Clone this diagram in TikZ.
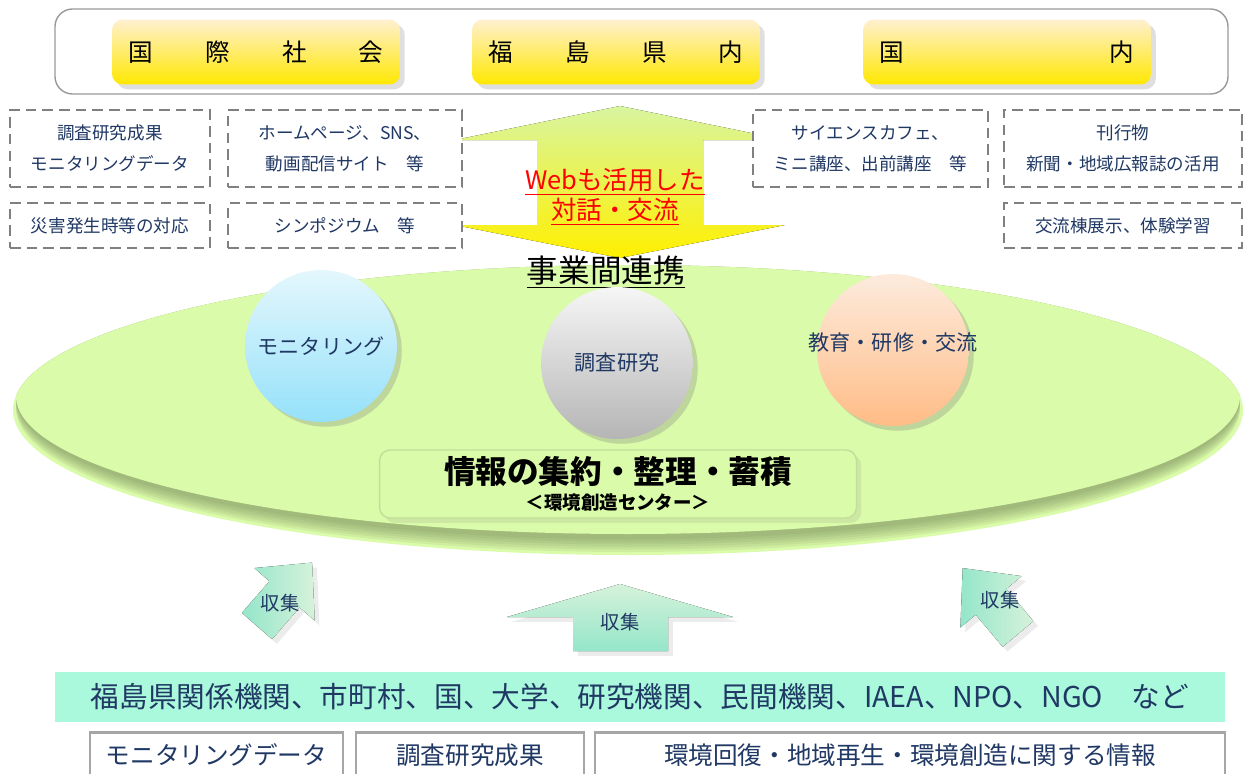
\documentclass[tikz,border=0pt]{standalone}
\usepackage{fontspec}
\setmainfont{Noto Sans CJK JP}
\usetikzlibrary{shadows,positioning}

\definecolor{ytop}{HTML}{FFF0D0}
\definecolor{ybot}{HTML}{FFE800}
\definecolor{dashgray}{HTML}{808080}
\definecolor{navy}{HTML}{203864}
\definecolor{hubgreen}{HTML}{DAFBA9}
\definecolor{hubshade}{HTML}{6F7D52}
\definecolor{atop}{HTML}{D8F5A0}
\definecolor{abot}{HTML}{FFF000}
\definecolor{mintA}{HTML}{94E6CA}
\definecolor{mintB}{HTML}{D6F2DA}
\definecolor{bannermint}{HTML}{AAF9DC}
\definecolor{bluetop}{HTML}{E4F7FD}
\definecolor{bluebot}{HTML}{95E1FA}
\definecolor{graytop}{HTML}{F6F6F6}
\definecolor{graybot}{HTML}{B5B5B5}
\definecolor{orangetop}{HTML}{FDEBDD}
\definecolor{orangebot}{HTML}{FFBC86}
\definecolor{infoborder}{HTML}{C3DE9A}

\begin{document}
\begin{tikzpicture}[
        x=0.02cm, y=-0.02cm,
        frame/.style={
            draw=gray!80,
            rounded corners=10pt,
            thick,
        },
        yellowbox/.style={
            rectangle,
            rounded corners=6pt,
            minimum width=5.76cm,
            minimum height=1.3cm,
            top color=ytop,
            bottom color=ybot,
            drop shadow={opacity=0.25},
            font=\fontsize{14}{16}\selectfont,
        },
        dashbox/.style={
            rectangle,
            draw=dashgray,
            dash pattern=on 6pt off 3.5pt,
            line width=1.3pt,
            fill=white,
            minimum width=4cm,
            minimum height=1.54cm,
            align=center,
            text=navy,
            font=\fontsize{10}{17.5}\selectfont,
        },
        wide/.style={
            minimum width=4.68cm,
        },
        low/.style={
            minimum height=0.9cm,
        },
        ball/.style={
            circle,
            minimum size=3.04cm,
            inner sep=0pt,
            drop shadow={opacity=0.3},
        },
        balltext/.style={
            text=navy,
            font=\fontsize{12}{14}\selectfont,
        },
        collect/.style={
            left color=mintA,
            right color=mintB,
            drop shadow={opacity=0.15},
        },
        bottombox/.style={
            rectangle,
            draw=gray!70,
            line width=1.2pt,
            fill=white,
            minimum height=0.9cm,
            text=navy,
            font=\fontsize{14}{16}\selectfont,
        },
    ]
    \useasboundingbox (0,0) rectangle (1245,774);

    % top row
    \draw[frame] (55,9) rectangle (1228,94);
    \node [yellowbox] (world) at (256,52) {\makebox[5.1cm]{国\hfill 際\hfill 社\hfill 会}};
    \node [yellowbox] (pref) at (616,52) {\makebox[5.1cm]{福\hfill 島\hfill 県\hfill 内}};
    \node [yellowbox] (nation) at (1007,52) {\makebox[5.1cm]{国\hfill 内}};

    % dialogue arrow
    \fill[top color=atop, bottom color=abot]
        (620,106) -- (785,140) -- (703,140) -- (703,225) -- (785,225)
        -- (620,258) -- (455,225) -- (537,225) -- (537,140) -- (455,140) -- cycle;
    \node [text=red, align=center, font=\fontsize{14.5}{17}\selectfont] (web) at (615,197)
        {\underline{Webも活用した}\\\underline{対話・交流}};

    % channels
    \node [dashbox] (results) at (110,148.5) {調査研究成果\\モニタリングデータ};
    \node [dashbox, wide] (homepage) at (345,148.5) {ホームページ、SNS、\\動画配信サイト　等};
    \node [dashbox, low] (disaster) at (110,225.5) {災害発生時等の対応};
    \node [dashbox, wide, low] (symposium) at (345,225.5) {シンポジウム　等};
    \node [dashbox, minimum width=4.7cm] (cafe) at (870.5,148.5) {サイエンスカフェ、\\ミニ講座、出前講座　等};
    \node [dashbox, minimum width=4.76cm] (press) at (1123,148.5) {刊行物\\新聞・地域広報誌の活用};
    \node [dashbox, minimum width=4.76cm, low] (exhibit) at (1123,225.5) {交流棟展示、体験学習};

    % hub
    \fill[hubgreen] (628,410) ellipse [x radius=615, y radius=145];
    \begin{scope}
        \clip (628,410) ellipse [x radius=615, y radius=145];
        \foreach \k in {0,...,5}
            \fill[hubshade, opacity=0.11] (628,{408-2*\k}) ellipse [x radius=612, y radius={144-0.5*\k}];
        \fill[hubgreen] (628,396) ellipse [x radius=612, y radius=138];
    \end{scope}
    \node [font=\fontsize{18}{20}\selectfont] (link) at (606,272) {\underline{事業間連携}};

    \node [ball, top color=bluetop, bottom color=bluebot,
        label={[balltext]center:モニタリング}] (monitor) at (321,346) {};
    \node [ball, top color=graytop, bottom color=graybot,
        label={[balltext]center:調査研究}] (survey) at (617,363) {};
    \node [ball, top color=orangetop, bottom color=orangebot,
        label={[balltext, yshift=4pt]center:教育・研修・交流}] (edu) at (893,350) {};

    \node [rectangle, rounded corners=6pt, draw=infoborder, thick, fill=hubgreen,
        drop shadow={opacity=0.15}, minimum width=9.54cm, minimum height=1.36cm,
        align=center] (info) at (618,484)
        {{\fontsize{18}{20}\selectfont\bfseries 情報の集約・整理・蓄積}\\[3pt]
         {\fontsize{10.5}{12}\selectfont\bfseries ＜環境創造センター＞}};

    % collection arrows
    \begin{scope}[shift={(257,626)}, rotate=49]
        \fill[collect] (0,-20) -- (42,-20) -- (42,-40) -- (84,0) -- (42,40) -- (42,20) -- (0,20) -- cycle;
    \end{scope}
    \fill[collect, top color=mintB, bottom color=mintA]
        (573,651) -- (573,617) -- (507,617) -- (620,584) -- (733,617) -- (668,617) -- (668,651) -- cycle;
    \begin{scope}[shift={(1018,634)}, rotate=130]
        \fill[collect] (0,-20) -- (42,-20) -- (42,-40) -- (86,0) -- (42,40) -- (42,20) -- (0,20) -- cycle;
    \end{scope}
    \node [balltext, font=\fontsize{11}{13}\selectfont] (gl) at (280,603) {収集};
    \node [balltext, font=\fontsize{11}{13}\selectfont] (gm) at (620,622) {収集};
    \node [balltext, font=\fontsize{11}{13}\selectfont] (gr) at (1000,600) {収集};

    % sources
    \node [rectangle, fill=bannermint, minimum width=23.4cm, minimum height=1cm,
        text=navy, font=\fontsize{16.3}{18}\selectfont] (orgs) at (640,697)
        {福島県関係機関、市町村、国、大学、研究機関、民間機関、IAEA、NPO、NGO　など};
    \node [bottombox, minimum width=5.06cm] (mdata) at (216.5,755) {モニタリングデータ};
    \node [bottombox, minimum width=4.56cm] (sdata) at (470,755) {調査研究成果};
    \node [bottombox, minimum width=12.6cm] (edata) at (910,755) {環境回復・地域再生・環境創造に関する情報};
\end{tikzpicture}
\end{document}
